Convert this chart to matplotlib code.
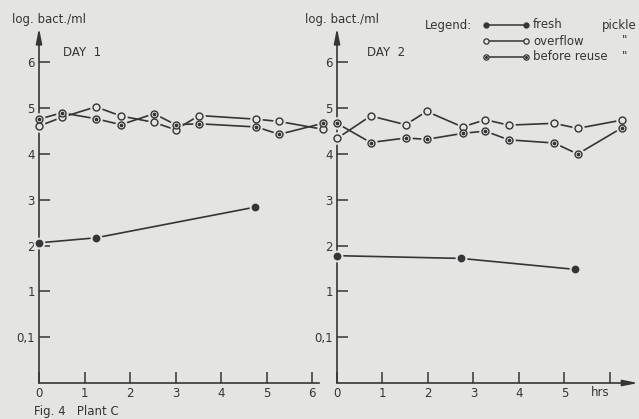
import numpy as np
import matplotlib.pyplot as plt

# ---- data (log bact./ml vs hrs) ----
# day 1
d1_hrs = [0, 0.5, 1.25, 1.8, 2.53, 3.0, 3.52, 4.78, 5.28, 6.24]
d1_overflow = [4.61, 4.80, 5.03, 4.83, 4.69, 4.53, 4.84, 4.76, 4.71, 4.54]
d1_before = [4.76, 4.90, 4.77, 4.64, 4.88, 4.64, 4.66, 4.59, 4.43, 4.67]
d1_fresh_hrs = [0, 1.25, 4.75]
d1_fresh = [2.06, 2.17, 2.84]

# day 2
d2_hrs = [0, 0.74, 1.51, 1.97, 2.76, 3.26, 3.77, 4.77, 5.29, 6.26]
d2_overflow = [4.34, 4.83, 4.64, 4.93, 4.59, 4.75, 4.63, 4.67, 4.56, 4.74]
d2_before = [4.67, 4.25, 4.35, 4.32, 4.45, 4.50, 4.31, 4.24, 4.00, 4.57]
d2_fresh_hrs = [0, 2.73, 5.24]
d2_fresh = [1.78, 1.72, 1.48]

y_ticks = [0, 1, 2, 3, 4, 5, 6]
y_labels = ['0,1', '1', '2', '3', '4', '5', '6']

bg = '#e4e4e2'
ink = '#353535'
plt.rcParams['font.family'] = ['DejaVu Sans']
fs = 8.5

W, H = 639, 419
fig = plt.figure(figsize=(W / 100, H / 100), dpi=100)
fig.patch.set_facecolor(bg)

# pixel -> figure fraction helpers
def fx(px):
    return px / W

def fy(py):
    return 1 - py / H

ppu_x = 45.5   # px per hour
ppu_y = 45.8   # px per log unit
y_top = 6.8
ax_bottom = 383
ax_h = (y_top + 1) * ppu_y

ax1 = fig.add_axes([fx(39), fy(ax_bottom), 6.15 * ppu_x / W, ax_h / H])
ax2 = fig.add_axes([fx(337), fy(ax_bottom), 6.62 * ppu_x / W, ax_h / H])


def circ_series(ax, x, y, dotted):
    ax.plot(x, y, color=ink, lw=1.2, clip_on=False, zorder=2)
    ax.plot(x, y, 'o', ms=8, mfc=bg, mec=bg, clip_on=False, zorder=3)
    ax.plot(x, y, 'o', ms=5, mfc=bg, mec=ink, mew=1.0, clip_on=False, zorder=4)
    if dotted:
        ax.plot(x, y, 'o', ms=1.7, color=ink, clip_on=False, zorder=5)


def fresh_series(ax, x, y):
    ax.plot(x, y, color=ink, lw=1.2, clip_on=False, zorder=2)
    ax.plot(x, y, 'o', ms=7.5, mfc=bg, mec=bg, clip_on=False, zorder=3)
    ax.plot(x, y, 'o', ms=4.6, color=ink, clip_on=False, zorder=4)


for ax, xmax in [(ax1, 6.15), (ax2, 6.62)]:
    ax.set_facecolor('none')
    ax.set_xlim(0, xmax)
    ax.set_ylim(-1, y_top)
    for s in ax.spines.values():
        s.set_visible(False)
    ax.set_yticks(y_ticks)
    ax.set_yticklabels(y_labels)
    ax.tick_params(axis='both', direction='in', length=8, width=1.1,
                   color=ink, labelcolor=ink, labelsize=fs, pad=3)
    # y axis with arrow
    ax.annotate('', xy=(0, 6.75), xytext=(0, -1), annotation_clip=False,
                arrowprops=dict(arrowstyle='-|>,head_length=0.9,head_width=0.18',
                                color=ink, lw=1.2, shrinkA=0, shrinkB=0))

ax1.set_xticks(range(7))
ax1.set_xticklabels([str(i) for i in range(7)])
ax1.plot([0, 6.15], [-1, -1], color=ink, lw=1.2, clip_on=False)

ax2.set_xticks(range(7))
ax2.set_xticklabels(['0', '1', '2', '3', '4', '5', ''])
ax2.annotate('', xy=(6.62, -1), xytext=(0, -1), annotation_clip=False,
             arrowprops=dict(arrowstyle='-|>,head_length=0.9,head_width=0.18',
                             color=ink, lw=1.2, shrinkA=0, shrinkB=0))

circ_series(ax1, d1_hrs, d1_overflow, False)
circ_series(ax1, d1_hrs, d1_before, True)
fresh_series(ax1, d1_fresh_hrs, d1_fresh)

circ_series(ax2, d2_hrs, d2_overflow, False)
circ_series(ax2, d2_hrs, d2_before, True)
fresh_series(ax2, d2_fresh_hrs, d2_fresh)

# texts
tk = dict(color=ink, fontsize=fs, va='center')
fig.text(fx(12), fy(19), 'log. bact./ml', **tk)
fig.text(fx(305), fy(19), 'log. bact./ml', **tk)
fig.text(fx(63), fy(52), 'DAY  1', **tk)
fig.text(fx(367), fy(52), 'DAY  2', **tk)
fig.text(fx(34), fy(411), 'Fig. 4   Plant C', **tk)
fig.text(fx(600), fy(392), 'hrs', ha='center', **tk)

# legend drawn by hand
lg = fig.add_axes([0, 0, 1, 1], zorder=10)
lg.set_xlim(0, W)
lg.set_ylim(H, 0)
lg.axis('off')
lg.text(425, 25, 'Legend:', **tk)
rows = [(25, 'fresh', 'fresh'), (41.5, 'overflow', 'open'), (57, 'before reuse', 'dot')]
for yy, name, kind in rows:
    lg.plot([486, 526], [yy, yy], color=ink, lw=1.1)
    if kind == 'fresh':
        lg.plot([486, 526], [yy, yy], 'o', ms=3.5, color=ink)
    else:
        lg.plot([486, 526], [yy, yy], 'o', ms=3.8, mfc=bg, mec=ink, mew=0.9)
        if kind == 'dot':
            lg.plot([486, 526], [yy, yy], 'o', ms=1.2, color=ink)
    lg.text(533, yy, name, **tk)
lg.text(602, 25, 'pickle', clip_on=False, **tk)
lg.text(622, 40, '"', **tk)
lg.text(622, 56, '"', **tk)

fig.savefig('out.png', dpi=100, facecolor=bg)
